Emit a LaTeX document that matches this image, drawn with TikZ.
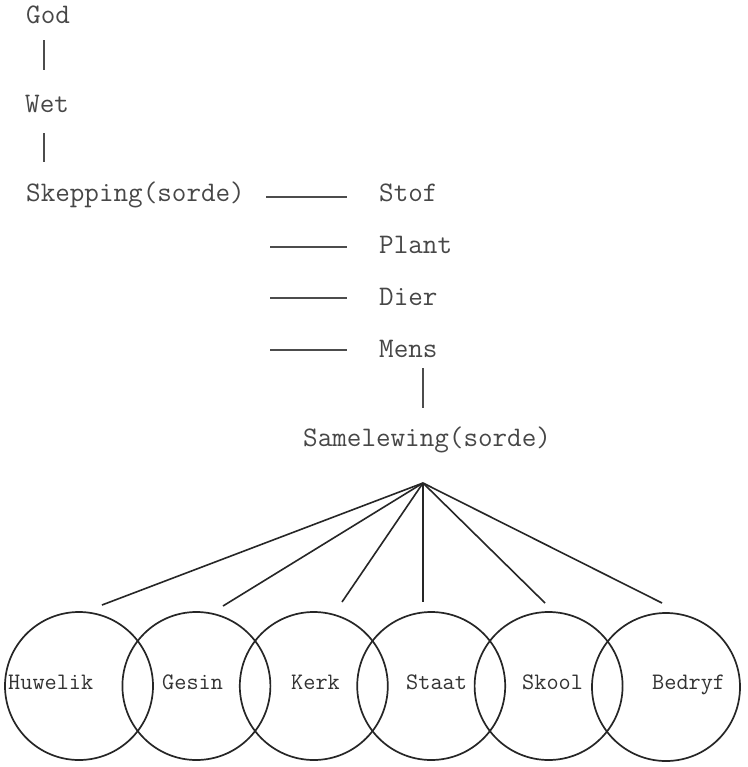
\documentclass[tikz,border=0pt]{standalone}
\usepackage{fontspec}
\newfontfamily\typewr{Latin Modern Mono}
\tikzset{
  toptext/.style={anchor=base west, inner sep=0pt, text height=15pt, text depth=0pt,
    font=\typewr\fontsize{28.3}{32}\selectfont, text=black!72},
  ringlabel/.style={anchor=base west, inner sep=0pt,
    font=\typewr\fontsize{23.6}{28}\selectfont, text=black!80},
  ring/.style={draw=black!85, line width=1.7pt, circle, minimum size=148pt, inner sep=0pt},
  thinline/.style={draw=black!70, line width=1.2pt},
  fanline/.style={draw=black!85, line width=1.6pt}
}
\begin{document}
\begin{tikzpicture}[x=1pt,y=-1pt]
\useasboundingbox[fill=white] (0,0) rectangle (747,767);
% text nodes
\node[toptext] (god) at (26,24) {God};
\node[toptext] (wet) at (25,113) {Wet};
\node[toptext] (skep) at (26,202) {Skepping(sorde)};
\node[toptext] (stof) at (379,202) {Stof};
\node[toptext] (plant) at (379,253) {Plant};
\node[toptext] (dier) at (379,305) {Dier};
\node[toptext] (mens) at (379,357) {Mens};
\node[toptext] (samel) at (303,446) {Samelewing(sorde)};
% coordinates
\coordinate (vx) at (44,0);
\coordinate (apex) at (423,483);
\coordinate (h1) at (270,197);
\coordinate (h2) at (270,247);
\coordinate (h3) at (270,298);
\coordinate (h4) at (270,350);
% vertical connectors
\draw[thinline, shorten <=16pt, shorten >=28pt] (god.south -| vx) -- (wet.north -| vx);
\draw[thinline, shorten <=20pt, shorten >=25pt] (wet.south -| vx) -- (skep.north -| vx);
\draw[thinline, shorten <=11pt, shorten >=23pt] (mens.south -| apex) -- (samel.north -| apex);
% horizontal dashes
\draw[thinline, shorten <=21pt, shorten >=32pt] (h1 -| skep.east) -- (h1 -| stof.west);
\draw[thinline, shorten >=32pt] (h2) -- (h2 -| plant.west);
\draw[thinline, shorten >=32pt] (h3) -- (h3 -| dier.west);
\draw[thinline, shorten >=32pt] (h4) -- (h4 -| mens.west);
% circles
\node[ring] (c1) at (79,686) {};
\node[ring] (c2) at (196.4,686) {};
\node[ring] (c3) at (313.8,686) {};
\node[ring] (c4) at (431.2,686) {};
\node[ring] (c5) at (548.6,686) {};
\node[ring] (c6) at (666,687) {};
\node[ringlabel] (l1) at (8,689) {Huwelik};
\node[ringlabel] (l2) at (162,689) {Gesin};
\node[ringlabel] (l3) at (291,689) {Kerk};
\node[ringlabel] (l4) at (406,689) {Staat};
\node[ringlabel] (l5) at (522,689) {Skool};
\node[ringlabel] (l6) at (652,689) {Bedryf};
% fan
\coordinate (e1) at (102,605);
\coordinate (e2) at (223,606);
\coordinate (e3) at (342,602);
\coordinate (e4) at (423,602);
\coordinate (e5) at (545,603);
\coordinate (e6) at (662,603);
\foreach \i in {1,...,6} \draw[fanline] (apex) -- (e\i);
\end{tikzpicture}
\end{document}
